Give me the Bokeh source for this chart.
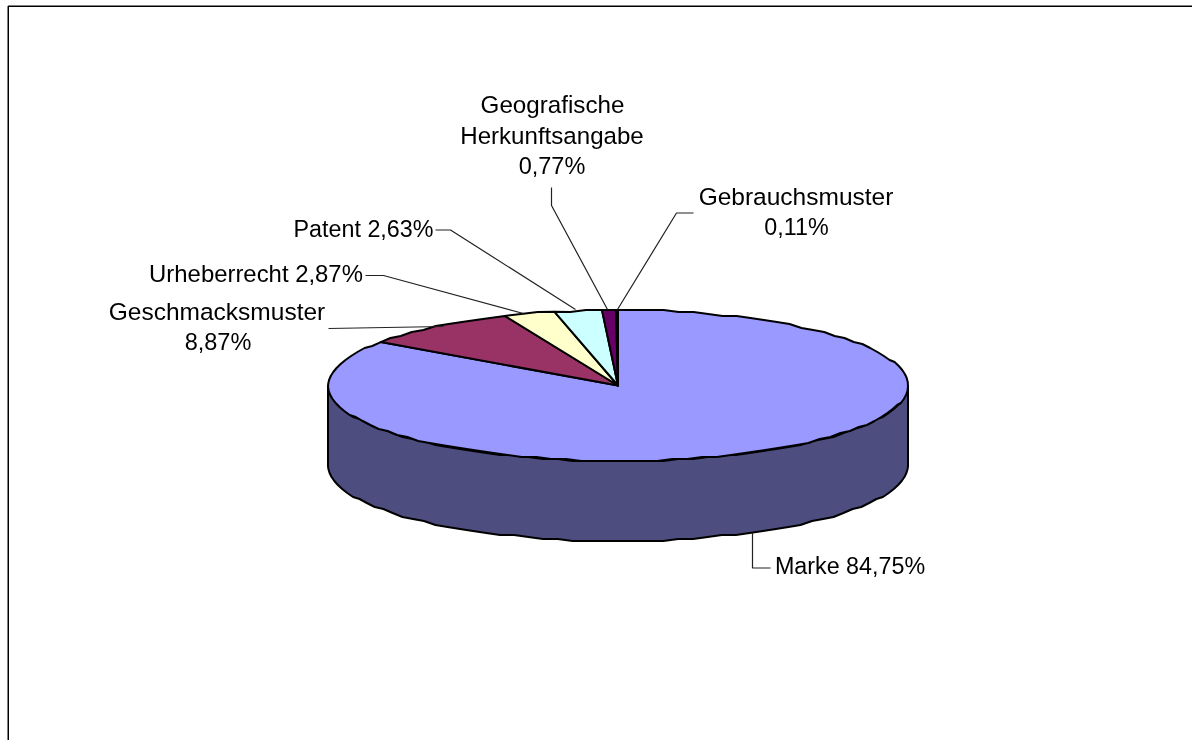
import math
from bokeh.plotting import figure
from bokeh.embed import file_html
from bokeh.resources import INLINE
from bokeh.core.properties import value

# data
categories = ["Marke", "Geschmacksmuster", "Urheberrecht", "Patent",
              "Geografische Herkunftsangabe", "Gebrauchsmuster"]
shares = [84.75, 8.87, 2.87, 2.63, 0.77, 0.11]
colors = ["#9999FF", "#993366", "#FFFFCC", "#CCFFFF", "#660066", "#9999FF"]
side_color = "#4D4D80"

W, H = 1192, 740
p = figure(width=W, height=H, x_range=(0, W), y_range=(H, 0), toolbar_location=None,
           output_backend="svg", min_border=0, outline_line_color=None,
           background_fill_color="white", border_fill_color="white",
           x_axis_type=None, y_axis_type=None, tools="",
           styles={"position": "fixed", "left": "0px", "top": "0px"})
p.grid.visible = False

# geometry
cx, cy, rx, ry, depth = 617.5, 385.0, 290.0, 75.5, 80.0
GRID = 2.0  # the original's rim is slightly stair-stepped

def rim_exact(deg):
    a = math.radians(deg)
    return cx + rx * math.sin(a), cy - ry * math.cos(a)

def rim(deg):
    x, y = rim_exact(deg)
    v = abs(y - cy)
    v = ry - round((ry - v) / GRID) * GRID
    return x, cy + math.copysign(v, y - cy)

STEP = 3.0
LW = 2.0
# side wall
front = [90 + i * STEP for i in range(int(180 / STEP) + 1)]
top_pts = [rim(d) for d in front]
bot_pts = [(x, y + depth) for x, y in reversed(top_pts)]
p.patch([q[0] for q in top_pts + bot_pts], [q[1] for q in top_pts + bot_pts],
        fill_color=side_color, line_color="black", line_width=LW, line_join="round")

# slices, clockwise from twelve o'clock
start = 0.0
for share, col in zip(shares, colors):
    end = start + share * 3.6
    n = max(1, int((end - start) / STEP))
    pts = [rim(start + (end - start) * i / n) for i in range(n + 1)]
    pts[0], pts[-1] = rim_exact(start), rim_exact(end)
    xs = [cx] + [q[0] for q in pts]
    ys = [cy] + [q[1] for q in pts]
    p.patch(xs, ys, fill_color=col, line_color="black", line_width=LW, line_join="round")
    start = end

# frame
p.line([7.75, 7.75, W], [H, 5.75, 5.75], line_color="black", line_width=1.5)

# leaders
LC = "#222222"
for xs, ys in [
    ([752, 752, 770], [532, 567.5, 567.5]),
    ([328, 443], [328, 326]),
    ([365, 383, 523], [275, 275, 313]),
    ([435, 450, 575], [229.5, 229.5, 309]),
    ([551, 551, 607], [187, 205, 309]),
    ([693, 676, 617], [212.5, 212.5, 309]),
]:
    p.line(xs, ys, line_color=LC, line_width=1.2)

# labels
pct = [f"{s:.2f}%".replace(".", ",") for s in shares]
geo1, geo2 = categories[4].split()
labels = [
    (f"{categories[0]} {pct[0]}", 849.5, 565.5, 23.3),
    (categories[1], 216.5, 310.5, 24.5),
    (pct[1], 217.5, 341.5, 23.5),
    (f"{categories[2]} {pct[2]}", 255.5, 272.5, 23.9),
    (f"{categories[3]} {pct[3]}", 363, 228.5, 23.3),
    (geo1, 552, 103.5, 24.2),
    (geo2, 551.5, 134.5, 24.1),
    (pct[4], 551.5, 165.5, 23.5),
    (categories[5], 795.5, 195.5, 24.5),
    (pct[5], 796, 226.5, 23.3),
]
p.text([l[1] for l in labels], [l[2] for l in labels], text=[l[0] for l in labels],
       text_font=value("Liberation Sans"), text_font_size=[f"{l[3]}px" for l in labels],
       text_color="black", text_align="center", text_baseline="middle")

open("out.html", "w").write(file_html(p, INLINE))
